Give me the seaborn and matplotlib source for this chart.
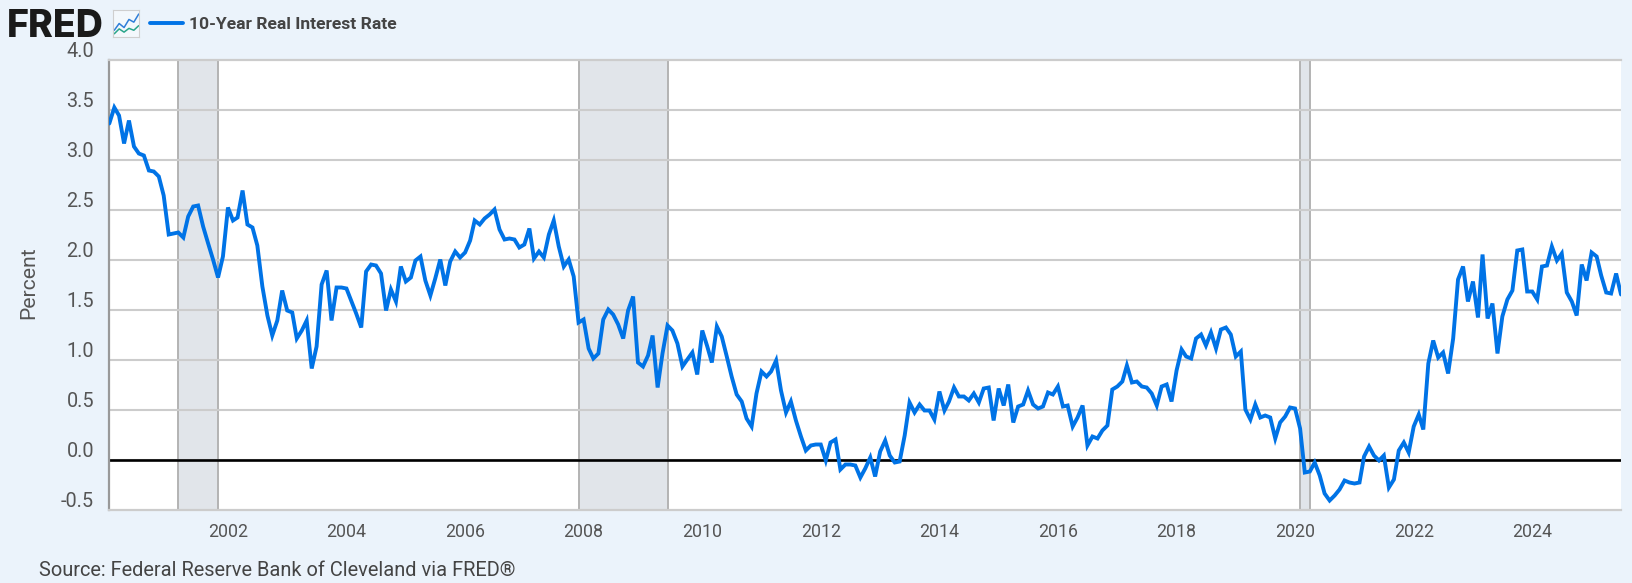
import numpy as np
import pandas as pd
import matplotlib
matplotlib.use("Agg")
import matplotlib.pyplot as plt
from matplotlib.transforms import ScaledTranslation
import seaborn as sns

SERIES_NAME = "10-Year Real Interest Rate"
START_DATE = "2000-01-01"
rate = [
    3.36, 3.52, 3.44, 3.16, 3.39, 3.13, 3.06, 3.04, 2.89, 2.88, 2.83, 2.64,
    2.25, 2.26, 2.27, 2.22, 2.43, 2.53, 2.54, 2.33, 2.16, 2.00, 1.82, 2.03,
    2.52, 2.39, 2.42, 2.69, 2.35, 2.32, 2.14, 1.73, 1.44, 1.24, 1.39, 1.69,
    1.49, 1.47, 1.21, 1.29, 1.39, 0.91, 1.13, 1.75, 1.89, 1.39, 1.72, 1.72,
    1.71, 1.58, 1.46, 1.32, 1.88, 1.95, 1.94, 1.86, 1.49, 1.70, 1.58, 1.93,
    1.78, 1.82, 1.99, 2.03, 1.79, 1.64, 1.81, 2.00, 1.74, 1.98, 2.08, 2.02,
    2.07, 2.19, 2.39, 2.35, 2.41, 2.45, 2.50, 2.30, 2.20, 2.21, 2.20, 2.12,
    2.15, 2.31, 2.01, 2.08, 2.02, 2.25, 2.39, 2.13, 1.93, 2.00, 1.83, 1.37,
    1.40, 1.11, 1.01, 1.06, 1.40, 1.50, 1.45, 1.35, 1.21, 1.49, 1.63, 0.97,
    0.93, 1.04, 1.24, 0.72, 1.06, 1.34, 1.29, 1.16, 0.93, 1.00, 1.07, 0.85,
    1.29, 1.13, 0.97, 1.33, 1.23, 1.03, 0.83, 0.65, 0.58, 0.41, 0.33, 0.66,
    0.88, 0.83, 0.88, 0.99, 0.69, 0.47, 0.58, 0.39, 0.23, 0.09, 0.14, 0.15,
    0.15, -0.01, 0.17, 0.20, -0.10, -0.05, -0.05, -0.06, -0.18, -0.09, 0.02, -0.17,
    0.08, 0.19, 0.04, -0.03, -0.02, 0.24, 0.57, 0.47, 0.55, 0.49, 0.49, 0.40,
    0.68, 0.49, 0.58, 0.72, 0.63, 0.63, 0.59, 0.66, 0.57, 0.71, 0.72, 0.39,
    0.71, 0.54, 0.75, 0.37, 0.53, 0.55, 0.69, 0.55, 0.51, 0.53, 0.67, 0.65,
    0.73, 0.53, 0.54, 0.33, 0.42, 0.54, 0.14, 0.23, 0.21, 0.29, 0.34, 0.70,
    0.73, 0.78, 0.94, 0.77, 0.78, 0.73, 0.72, 0.66, 0.54, 0.73, 0.75, 0.58,
    0.89, 1.10, 1.03, 1.01, 1.21, 1.25, 1.14, 1.27, 1.11, 1.30, 1.32, 1.25,
    1.03, 1.08, 0.50, 0.40, 0.55, 0.42, 0.44, 0.42, 0.21, 0.37, 0.43, 0.52,
    0.51, 0.31, -0.13, -0.12, -0.03, -0.16, -0.34, -0.41, -0.36, -0.30, -0.21, -0.23,
    -0.24, -0.23, 0.03, 0.13, 0.04, -0.01, 0.04, -0.28, -0.20, 0.09, 0.17, 0.07,
    0.33, 0.45, 0.30, 0.96, 1.19, 1.02, 1.07, 0.86, 1.21, 1.80, 1.93, 1.58,
    1.78, 1.42, 2.05, 1.41, 1.56, 1.06, 1.43, 1.60, 1.69, 2.09, 2.10, 1.68,
    1.68, 1.60, 1.93, 1.94, 2.13, 1.99, 2.06, 1.67, 1.58, 1.44, 1.95, 1.79,
    2.07, 2.03, 1.84, 1.67, 1.66, 1.86, 1.65,
]
recession_start = ["2001-03-01", "2007-12-01", "2020-02-01"]
recession_end = ["2001-11-01", "2009-06-01", "2020-04-01"]
y_ticks = [-0.5, 0.0, 0.5, 1.0, 1.5, 2.0, 2.5, 3.0, 3.5, 4.0]
x_tick_years = list(range(2002, 2025, 2))
logo_blue = [0.25, 0.5, 0.35, 0.65, 0.55, 0.85]
logo_green = [0.12, 0.3, 0.18, 0.32, 0.25, 0.42]

W, H = 1633, 583
BG = "#ebf3fb"
sns.set_theme(style="white")
plt.rcParams["font.family"] = ["Roboto", "DejaVu Sans"]

dates = pd.date_range(START_DATE, periods=len(rate), freq="MS")
df = pd.DataFrame({"date": dates, SERIES_NAME: rate})

fig = plt.figure(figsize=(W / 100, H / 100), dpi=100, facecolor=BG)
left, right, top, bottom = 109.3, 1621, 59.5, 509.5
ax = fig.add_axes([left / W, 1 - bottom / H, (right - left) / W, (bottom - top) / H])
ax.set_facecolor("white")

for s, e in zip(recession_start, recession_end):
    ax.axvspan(pd.Timestamp(s), pd.Timestamp(e), facecolor="#e1e5ea", edgecolor="none", zorder=1)
    for d in (s, e):
        ax.axvline(pd.Timestamp(d), color="#b3b3b3", lw=1.4, zorder=1.5)

ax.grid(False)
for y in y_ticks[1:-1]:
    ax.axhline(y, color="#cccccc", lw=1.5, zorder=2)
ax.axhline(0, color="black", lw=1.9, zorder=2.5)

sns.lineplot(data=df, x="date", y=SERIES_NAME, color="#0073e6", lw=2.8, ax=ax,
             label=SERIES_NAME, zorder=3, solid_joinstyle="miter", errorbar=None)

ax.set_xlim(dates[0], dates[-1])
ax.set_ylim(-0.5, 4.0)
ax.set_yticks(y_ticks)
ax.set_yticklabels([f"{v:.1f}" for v in y_ticks])
ax.set_xticks([pd.Timestamp(f"{y}-01-01") for y in x_tick_years])
ax.set_xticklabels([str(y) for y in x_tick_years])
ax.tick_params(axis="y", length=0, pad=11, labelsize=14.3, labelcolor="#555555")
ax.tick_params(axis="x", length=9, width=1, color="#ccd6eb", pad=1, labelsize=12.8, labelcolor="#555555")
offset = ScaledTranslation(0, 10 / 100, fig.dpi_scale_trans)
for lab in ax.get_yticklabels():
    lab.set_transform(lab.get_transform() + offset)

ax.set_xlabel("")
ax.set_ylabel("")
for side, sp in ax.spines.items():
    sp.set_visible(side != "right")
    sp.set_color("#cccccc")
    sp.set_linewidth(1.6)
ax.spines["left"].set_color("#999999")

leg = ax.legend(loc="center left", bbox_to_anchor=(150 / W, 1 - 24 / H), bbox_transform=fig.transFigure,
                frameon=False, handlelength=1.9, handletextpad=0.32, borderpad=0, borderaxespad=0,
                prop={"family": "Roboto", "weight": "bold", "size": 12.6})
for t in leg.get_texts():
    t.set_color("#444444")
for h in leg.get_lines():
    h.set_linewidth(2.8)

fig.text(29 / W, 1 - 283 / H, "Percent", rotation=90, ha="center", va="center", fontsize=15.2, color="#555555")
fig.text(39 / W, 1 - 570 / H, "Source: Federal Reserve Bank of Cleveland via FRED\u00ae", ha="left", va="center",
         fontsize=14.4, color="#444444")
fig.text(7 / W, 1 - 37 / H, "FRED", ha="left", va="baseline", fontsize=27, family="Inter", weight="heavy", color="#1a1a1a")

logo = fig.add_axes([113.5 / W, 1 - 37 / H, 26 / W, 27 / H], facecolor="#f3f8fc")
logo.plot(np.linspace(0.03, 0.97, len(logo_blue)), logo_blue, color="#2f7ed8", lw=1.1)
logo.plot(np.linspace(0.03, 0.97, len(logo_green)), logo_green, color="#2aa58a", lw=1.1)
logo.set_xlim(0, 1)
logo.set_ylim(0, 1)
logo.set_xticks([])
logo.set_yticks([])
for sp in logo.spines.values():
    sp.set_color("#cfcfcf")
    sp.set_linewidth(0.8)

fig.savefig("out.png", dpi=100, facecolor=BG)
